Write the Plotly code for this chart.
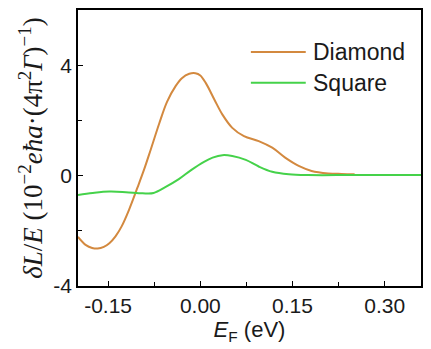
import plotly.graph_objects as go

# Fermi energy (eV) and normalised response for each lattice
diamond_x = [-0.199, -0.186, -0.176, -0.167, -0.157, -0.148, -0.138, -0.128, -0.116,
             -0.102, -0.091, -0.081, -0.067, -0.054, -0.040, -0.030, -0.018, -0.008,
             0.000, 0.009, 0.023, 0.036, 0.052, 0.071, 0.095, 0.117, 0.138, 0.160,
             0.181, 0.208, 0.230, 0.251]
diamond_y = [-2.22, -2.52, -2.62, -2.64, -2.58, -2.45, -2.20, -1.84, -1.24,
             -0.42, 0.25, 0.92, 1.88, 2.68, 3.25, 3.53, 3.69, 3.71,
             3.63, 3.35, 2.75, 2.21, 1.73, 1.43, 1.25, 1.01, 0.65, 0.35,
             0.17, 0.08, 0.06, 0.05]

square_x = [-0.199, -0.175, -0.148, -0.121, -0.094, -0.076, -0.057, -0.035, -0.015,
            0.006, 0.020, 0.036, 0.052, 0.074, 0.095, 0.117, 0.144, 0.175, 0.250, 0.359]
square_y = [-0.70, -0.63, -0.58, -0.60, -0.64, -0.63, -0.42, -0.13, 0.20,
            0.50, 0.65, 0.74, 0.71, 0.57, 0.33, 0.14, 0.05, 0.02, 0.02, 0.02]

series_names = ["Diamond", "Square"]
series_colors = ["#d3893f", "#45d24a"]

x_ticks = [-0.15, 0.00, 0.15, 0.30]
x_tick_text = ["-0.15", "0.00", "0.15", "0.30"]
y_ticks = [-4, 0, 4]
y_tick_text = ["-4", "0", "4"]

fig = go.Figure()
for name, xs, ys, color in zip(series_names, [diamond_x, square_x], [diamond_y, square_y], series_colors):
    fig.add_trace(go.Scatter(x=xs, y=ys, mode="lines", name=name, showlegend=False,
                             line=dict(color=color, width=2, shape="spline", smoothing=1.0)))

# legend drawn as line samples plus labels so the sample length can be set
legend_y = [0.848, 0.736]
for name, color, ly in zip(series_names, series_colors, legend_y):
    fig.add_shape(type="line", xref="paper", yref="paper", x0=0.504, x1=0.664, y0=ly, y1=ly,
                  line=dict(color=color, width=2))
    fig.add_annotation(xref="paper", yref="paper", x=0.680, y=ly, text=name, showarrow=False,
                       xanchor="left", yanchor="middle",
                       font=dict(family="Liberation Sans, Arial", size=23, color="#1a1a1a"))

axis_common = dict(showline=True, linecolor="black", linewidth=1.5, mirror=True,
                   showgrid=False, zeroline=False, ticks="inside", ticklen=5,
                   tickcolor="black", tickfont=dict(family="Liberation Sans, Arial", size=21, color="#1a1a1a"))

fig.update_xaxes(range=[-0.199, 0.359], tickvals=x_ticks, ticktext=x_tick_text,
                 minor=dict(ticks="inside", ticklen=4, dtick=0.075, tick0=0, tickcolor="black"),
                 title=dict(text="<i>E</i><sub>F</sub> (eV)", standoff=3,
                            font=dict(family="Liberation Sans, Arial", size=22, color="#1a1a1a")),
                 **axis_common)
fig.update_yaxes(range=[-4, 6], tickvals=y_ticks, ticktext=y_tick_text,
                 minor=dict(ticks="inside", ticklen=4, dtick=2, tick0=0, tickcolor="black"),
                 title=dict(text="<i>δL</i>/<i>E</i> (10<sup>−2</sup><i>eħa</i>·(4π<sup>2</sup><i>Γ</i>)<sup>−1</sup>)",
                            standoff=3,
                            font=dict(family="Liberation Serif, Times New Roman, serif", size=27, color="#1a1a1a")),
                 **axis_common)

fig.update_layout(
    width=431, height=349,
    margin=dict(l=78, r=8, t=10, b=63),
    plot_bgcolor="white", paper_bgcolor="white",
)

fig.write_html("out.html")
